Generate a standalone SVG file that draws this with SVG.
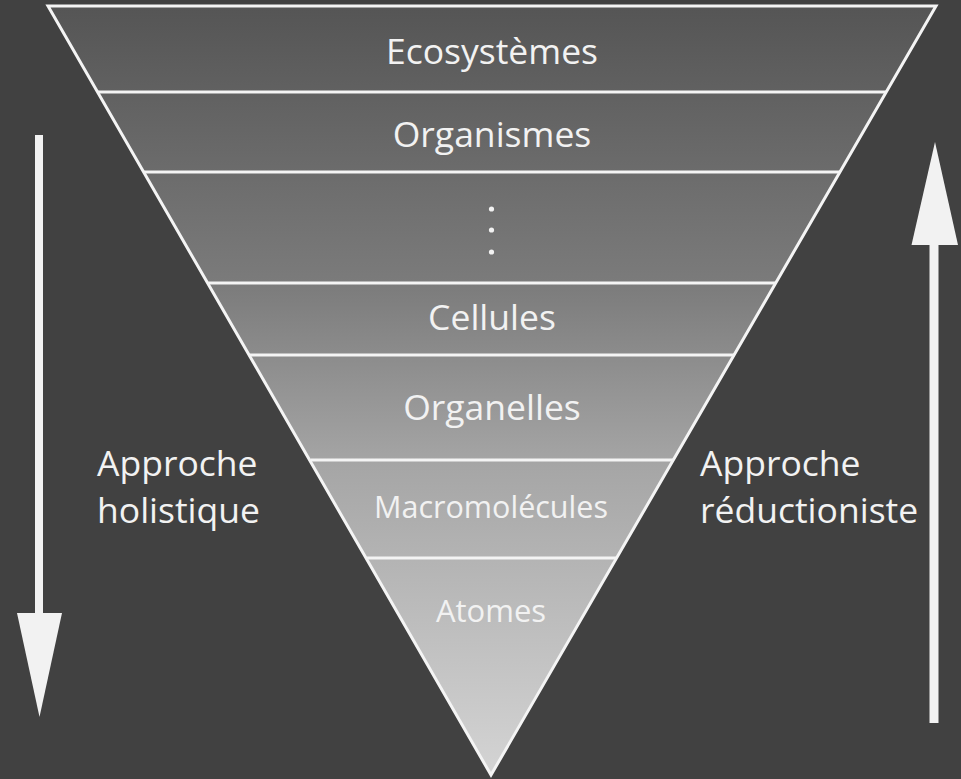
<svg xmlns="http://www.w3.org/2000/svg" width="961" height="779" viewBox="0 0 961 779">
  <defs>
    <linearGradient id="fade" gradientUnits="userSpaceOnUse" x1="0" y1="6" x2="0" y2="775">
      <stop offset="0" stop-color="#555555"/>
      <stop offset="0.36" stop-color="#7b7b7b"/>
      <stop offset="0.6" stop-color="#a6a6a6"/>
      <stop offset="1" stop-color="#d4d4d4"/>
    </linearGradient>
    <style>
      .lvl { font-family: "Open Sans", "Noto Sans", sans-serif; fill: #f2f2f2; text-anchor: middle; }
      .side { font-family: "Open Sans", "Noto Sans", sans-serif; fill: #f2f2f2; font-size: 35.5px; }
      .sep { stroke: #f4f4f4; stroke-width: 3; fill: none; }
      .arrow { fill: #f2f2f2; }
    </style>
  </defs>

  <rect width="961" height="779" fill="#414141"/>

  <!-- inverted pyramid -->
  <g id="pyramid">
    <polygon points="48,6 936,6 491,775" fill="url(#fade)"/>
    <polygon class="sep" points="48,6 936,6 491,775" stroke-linejoin="miter"/>
    <line class="sep" x1="97.8" y1="92" x2="886.2" y2="92"/>
    <line class="sep" x1="144.1" y1="172" x2="839.9" y2="172"/>
    <line class="sep" x1="208.3" y1="283" x2="775.7" y2="283"/>
    <line class="sep" x1="249.9" y1="355" x2="734.1" y2="355"/>
    <line class="sep" x1="310.6" y1="460" x2="673.4" y2="460"/>
    <line class="sep" x1="367.1" y1="558" x2="616.9" y2="558"/>
  </g>

  <g id="ecosystemes"><text class="lvl" x="492" y="64" font-size="35.5">Ecosystèmes</text></g>
  <g id="organismes"><text class="lvl" x="492" y="147" font-size="35.5">Organismes</text></g>
  <g id="ellipsis">
    <circle cx="491.5" cy="209" r="2.6" fill="#f2f2f2"/>
    <circle cx="491.5" cy="230" r="2.6" fill="#f2f2f2"/>
    <circle cx="491.5" cy="252" r="2.6" fill="#f2f2f2"/>
  </g>
  <g id="cellules"><text class="lvl" x="492" y="330" font-size="35.5">Cellules</text></g>
  <g id="organelles"><text class="lvl" x="492" y="420" font-size="35.5">Organelles</text></g>
  <g id="macromolecules"><text class="lvl" x="491" y="518" font-size="30.5" fill="#ebebeb">Macromolécules</text></g>
  <g id="atomes"><text class="lvl" x="491" y="622" font-size="31" fill="#ebebeb">Atomes</text></g>

  <!-- direction arrows -->
  <g id="connectors">
    <g id="holistic-arrow">
      <rect class="arrow" x="35" y="135" width="8" height="480"/>
      <polygon class="arrow" points="17,613 62,613 39.5,717"/>
    </g>
    <g id="reductionist-arrow">
      <rect class="arrow" x="929.5" y="243" width="9" height="480"/>
      <polygon class="arrow" points="911.5,245 958,245 935,142"/>
    </g>
  </g>

  <g id="holistic-label">
    <text class="side" x="97" y="476">Approche</text>
    <text class="side" x="97" y="523">holistique</text>
  </g>
  <g id="reductionist-label">
    <text class="side" x="700" y="476">Approche</text>
    <text class="side" x="700" y="523">réductioniste</text>
  </g>
</svg>
